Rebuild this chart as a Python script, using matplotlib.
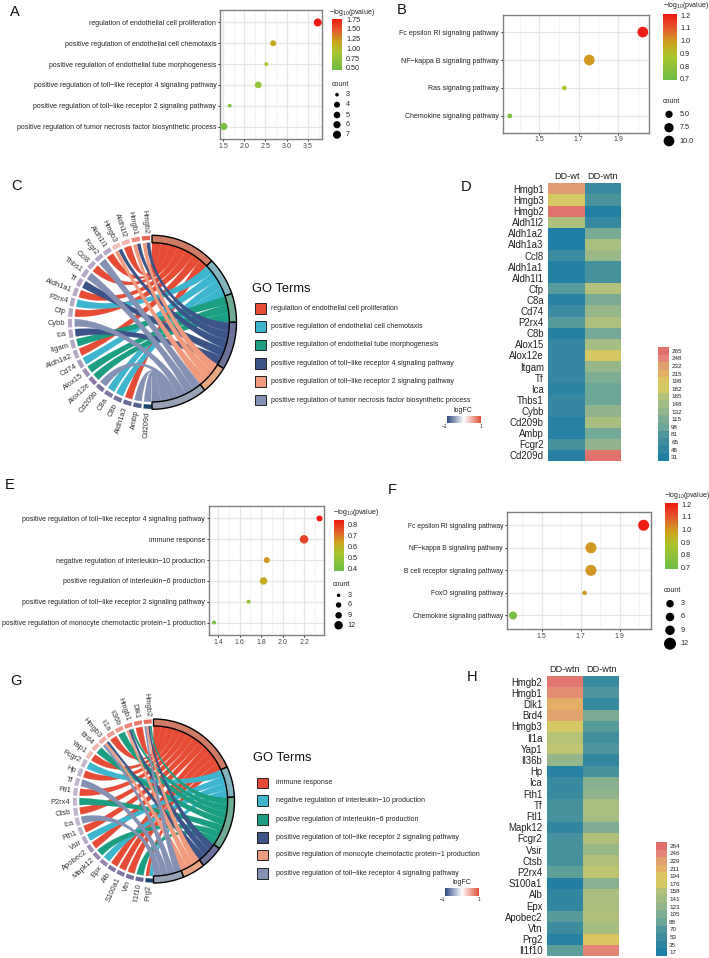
import matplotlib

matplotlib.use("Agg")

import matplotlib.pyplot as plt
import numpy as np
from matplotlib.colors import LinearSegmentedColormap, ListedColormap, BoundaryNorm
from matplotlib.patches import PathPatch, Rectangle
from matplotlib.path import Path

W, H = 709, 958

plt.rcParams["font.family"] = ["Liberation Sans", "DejaVu Sans"]
plt.rcParams["mathtext.default"] = "regular"

# dot plots
terms_a = ["regulation of endothelial cell proliferation",
           "positive regulation of endothelial cell chemotaxis",
           "positive regulation of endothelial tube morphogenesis",
           "positive regulation of toll\u2212like receptor 4 signaling pathway",
           "positive regulation of toll\u2212like receptor 2 signaling pathway",
           "positive regulation of tumor necrosis factor biosynthetic process"]
enrich_a = [3.73, 2.68, 2.52, 2.33, 1.66, 1.52]
pval_a = [1.75, 1.12, 0.95, 0.75, 0.6, 0.55]
count_a = [7, 4, 3, 5, 3, 6]

terms_b = ["Fc epsilon RI signaling pathway", "NF\u2212kappa B signaling pathway",
           "Ras signaling pathway", "Chemokine signaling pathway"]
enrich_b = [2.026, 1.754, 1.627, 1.35]
pval_b = [1.2, 1.0, 0.88, 0.72]
count_b = [10, 10, 3, 3]

terms_e = ["positive regulation of toll\u2212like receptor 4 signaling pathway",
           "immune response",
           "negative regulation of interleukin\u221210 production",
           "positive regulation of interleukin\u22126 production",
           "positive regulation of toll\u2212like receptor 2 signaling pathway",
           "positive regulation of monocyte chemotactic protein\u22121 production"]
enrich_e = [2.34, 2.197, 1.852, 1.822, 1.683, 1.363]
pval_e = [0.85, 0.78, 0.66, 0.62, 0.5, 0.42]
count_e = [6, 12, 6, 9, 3, 3]

terms_f = ["Fc epsilon RI signaling pathway", "NF\u2212kappa B signaling pathway",
           "B cell receptor signaling pathway", "FoxO signaling pathway",
           "Chemokine signaling pathway"]
enrich_f = [2.024, 1.753, 1.753, 1.72, 1.352]
pval_f = [1.2, 1.0, 1.0, 1.0, 0.72]
count_f = [12, 12, 12, 3, 6]

# chord diagrams: which terms each gene links to (1-based index into the legend)
go_terms_c = ["regulation of endothelial cell proliferation",
              "positive regulation of endothelial cell chemotaxis",
              "positive regulation of endothelial tube morphogenesis",
              "positive regulation of toll\u2212like receptor 4 signaling pathway",
              "positive regulation of toll\u2212like receptor 2 signaling pathway",
              "positive regulation of tumor necrosis factor biosynthetic process"]
genes_c = ["Hmgb2", "Hmgb1", "Aldh1l2", "Hmgb3", "Aldh1l1", "Fcgr2", "Ccl8", "Thbs1", "Tf",
           "Aldh1a1", "P2rx4", "Cfp", "Cybb", "Ica", "Itgam", "Aldh1a2", "Cd74", "Alox15",
           "Alox12e", "Cd209b", "C8a", "C8b", "Aldh1a3", "Ambp", "Cd209d"]
links_c = [[4, 5], [4, 5], [1], [4, 5], [1], [6], [1], [6], [4], [1], [2], [1], [6], [4], [3],
           [1], [2], [3], [3], [6], [2], [2], [1], [6], [6]]
logfc_c = [0.85, 0.6, 0.35, 0.3, -0.3, -0.3, -0.3, -0.3, -0.3, -0.3, -0.3, -0.3, -0.3, -0.3,
           -0.3, -0.3, -0.35, -0.4, -0.5, -0.55, -0.55, -0.6, -0.65, -0.75, -1.0]

go_terms_g = ["immune response",
              "negative regulation of interleukin\u221210 production",
              "positive regulation of interleukin\u22126 production",
              "positive regulation of toll\u2212like receptor 2 signaling pathway",
              "positive regulation of monocyte chemotactic protein\u22121 production",
              "positive regulation of toll\u2212like receptor 4 signaling pathway"]
genes_g = ["Hmgb2", "Dlk1", "Hmgb1", "Il36b", "Il1a", "Hmgb3", "Brd4", "Yap1", "Fcgr2", "Hp",
           "Tf", "Ftl1", "P2rx4", "Ctsb", "Ica", "Fth1", "Vsir", "Apobec2", "Mapk12", "Epx",
           "Alb", "S100a1", "Vtn", "Il1f10", "Prg2"]
links_g = [[3, 4, 5, 6], [1], [3, 4, 5], [3], [1], [4, 5, 6], [3], [1], [2], [1], [6], [1], [3],
           [1], [6], [1], [2], [1], [3], [2], [1], [1], [1], [3], [1, 2]]
logfc_g = [0.8, 0.7, 0.65, 0.55, 0.5, 0.4, 0.35, 0.3, -0.25, -0.25, -0.25, -0.25, -0.25, -0.25,
           -0.25, -0.25, -0.3, -0.4, -0.45, -0.45, -0.55, -0.55, -0.6, -0.65, -1.0]

chord_colors = ["#E64B35", "#3DB5CF", "#1B9E82", "#3C5488", "#F09A7E", "#8491B4"]
ring_colors = ["#CF7B63", "#80B4BE", "#6FAB93", "#6C7299", "#E5A57F", "#98A2B6"]

# heatmaps
heat_rows_d = ["Hmgb1", "Hmgb3", "Hmgb2", "Aldh1l2", "Aldh1a2", "Aldh1a3", "Ccl8", "Aldh1a1",
               "Aldh1l1", "Cfp", "C8a", "Cd74", "P2rx4", "C8b", "Alox15", "Alox12e", "Itgam",
               "Tf", "Ica", "Thbs1", "Cybb", "Cd209b", "Ambp", "Fcgr2", "Cd209d"]
heat_wt_d = [235, 185, 262, 160, 31, 31, 60, 35, 35, 85, 40, 60, 85, 38, 55, 55, 55, 55, 42, 55,
             55, 40, 40, 70, 40]
heat_wtn_d = [60, 75, 35, 55, 110, 155, 140, 70, 70, 165, 110, 135, 160, 105, 150, 185, 135, 115,
              100, 100, 130, 155, 105, 130, 262]
scale_d = [265, 248, 232, 215, 198, 182, 165, 148, 132, 115, 98, 81, 65, 48, 31]

heat_rows_h = ["Hmgb2", "Hmgb1", "Dlk1", "Brd4", "Hmgb3", "Il1a", "Yap1", "Il36b", "Hp", "Ica",
               "Fth1", "Tf", "Ftl1", "Mapk12", "Fcgr2", "Vsir", "Ctsb", "P2rx4", "S100a1", "Alb",
               "Epx", "Apobec2", "Vtn", "Prg2", "Il1f10"]
heat_wt_h = [258, 240, 212, 225, 180, 160, 165, 125, 25, 45, 45, 60, 60, 40, 60, 60, 60, 80, 20,
             40, 40, 75, 50, 25, 80]
heat_wtn_h = [45, 70, 42, 100, 75, 55, 70, 40, 60, 115, 120, 145, 145, 105, 155, 130, 155, 165,
              115, 150, 150, 155, 145, 190, 245]
scale_h = [264, 246, 229, 211, 194, 176, 158, 141, 123, 105, 88, 70, 53, 35, 17]

heat_bands = ["#1F7EA3", "#2E85A0", "#3F8D9E", "#4F969C", "#6BA698", "#7FAD93", "#93B58B",
              "#A2BD84", "#B2C17A", "#D2C963", "#DEC460", "#E3B066", "#E0A070", "#E58478",
              "#E0706A"]
heat_cmap = LinearSegmentedColormap.from_list("heat", heat_bands)
pval_cmap = LinearSegmentedColormap.from_list(
    "pval", [(0, "#6DBE45"), (0.35, "#A9C52F"), (0.55, "#CDA61F"), (0.8, "#E6552C"), (1, "#EE1A12")])
lfc_cmap = LinearSegmentedColormap.from_list(
    "lfc", [(0, "#17476E"), (0.25, "#8B7AA8"), (0.5, "#F5EEF0"), (1, "#E64B35")])
lfc_bar_cmap = LinearSegmentedColormap.from_list("lfc_bar", ["#2F4B85", "#FFFFFF", "#E0503A"])

fig = plt.figure(figsize=(W / 100, H / 100), dpi=100)


def px_axes(x0, y0, x1, y1):
    return fig.add_axes([x0 / W, 1 - y1 / H, (x1 - x0) / W, (y1 - y0) / H])


ov = fig.add_axes([0, 0, 1, 1], zorder=5)
ov.set_xlim(0, W)
ov.set_ylim(H, 0)
ov.axis("off")


def dot_panel(box, terms, xs, ps, counts, xlim, ticks, minor, vlim, size_counts, size_diams, label_size=5.05):
    ax = px_axes(*box)
    ys = np.arange(len(terms))
    diam = np.interp(counts, size_counts, size_diams)
    ax.grid(True, which="major", color="#E6E6E6", lw=0.9)
    ax.grid(True, which="minor", axis="x", color="#EFEFEF", lw=0.5)
    ax.set_axisbelow(True)
    ax.scatter(xs, ys, s=(diam * 0.72) ** 2, c=ps, cmap=pval_cmap,
               vmin=vlim[0], vmax=vlim[1], linewidths=0, zorder=3)
    ax.set_xlim(*xlim)
    ax.set_ylim(len(terms) - 1 + 0.6, -0.6)
    ax.set_yticks(ys)
    ax.set_yticklabels(terms, fontsize=label_size, color="#222222")
    ax.set_xticks(ticks)
    ax.set_xticks(minor, minor=True)
    ax.set_xticklabels(["%.1f" % t for t in ticks])
    ax.tick_params(axis="both", which="major", length=1.5, width=0.7, pad=1.2, color="#222222")
    ax.tick_params(axis="x", which="major", labelsize=5, labelcolor="#444444")
    ax.tick_params(axis="x", which="minor", length=0)
    for s in ax.spines.values():
        s.set_color("#7F7F7F")
        s.set_linewidth(1.0)
    return ax


def color_key(box, vlim, ticks, fmt, title_xy, count_xy, dots_x, dot_ys, dot_labels, dot_diam):
    ax = px_axes(*box)
    grad = np.linspace(1, 0, 256).reshape(-1, 1)
    ax.imshow(grad, aspect="auto", cmap=pval_cmap, vmin=0, vmax=1,
              extent=[0, 1, vlim[0], vlim[1]])
    ax.set_xticks([])
    ax.yaxis.tick_right()
    ax.set_yticks(ticks)
    ax.set_yticklabels([fmt % t for t in ticks], fontsize=5.2, color="#222222")
    ax.tick_params(axis="y", length=0, pad=3)
    for s in ax.spines.values():
        s.set_visible(False)
    ov.text(title_xy[0], title_xy[1], "\u2212log$_{10}$(pvalue)", fontsize=5, va="center", color="#222222")
    ov.text(count_xy[0], count_xy[1], "count", fontsize=5, va="center", color="#222222")
    ov.scatter([dots_x] * len(dot_ys), dot_ys, s=[(d * 0.72) ** 2 for d in dot_diam],
               color="black", linewidths=0)
    for y, lab in zip(dot_ys, dot_labels):
        ov.text(box[2] + 3.5, y, lab, fontsize=5.2, va="center", color="#222222")


def arc_points(t0, t1, r, n=24):
    t = np.radians(np.linspace(t0, t1, n))
    return list(zip(r * np.cos(t), r * np.sin(t)))


def ring_patch(t0, t1, r0, r1, to_px, **kw):
    pts = arc_points(t0, t1, r1) + arc_points(t1, t0, r0)
    return PathPatch(Path(to_px(pts + pts[:1]), closed=True), **kw)


def ctrl_point(edge, mid, k=0.45, f=0.42):
    # ribbon narrows through the middle but does not pinch to a point
    a = np.radians(mid + (edge - mid) * f / k)
    return (k * np.cos(a), k * np.sin(a))


def chord_panel(cx, cy, rx, ry, genes, links, logfc):
    def to_px(pts):
        a = np.array(pts, dtype=float)
        return np.column_stack([cx + rx * a[:, 0], cy - ry * a[:, 1]])

    n_genes = len(genes)
    slot = 180.0 / n_genes
    totals = [sum(t in gl for gl in links) for t in range(1, 7)]
    per_link = 180.0 / sum(totals)

    # term side: every term gets an arc sized by its number of links
    starts = {}
    pos = 90.0
    for t in range(6):
        span = totals[t] * per_link
        ov.add_patch(ring_patch(pos, pos - span, 0.915, 1.0, to_px,
                                facecolor=ring_colors[t], edgecolor="black", lw=1.0, zorder=4))
        starts[t + 1] = pos
        pos -= span

    used = dict.fromkeys(starts, 0)
    gene_spans = []
    for i, gl in enumerate(links):
        a0 = 90 + 1.3 + i * slot
        a1 = a0 + slot * 0.8
        w = (a1 - a0) / len(gl)
        for j, t in enumerate(gl):
            gene_spans.append((t, a0 + j * w, a0 + (j + 0.94) * w))
        ov.add_patch(ring_patch(a0, a1, 0.945, 0.995, to_px,
                                facecolor=lfc_cmap((logfc[i] + 1) / 2), edgecolor="none"))
        mid = np.radians((a0 + a1) / 2)
        lx, ly = to_px([(1.025 * np.cos(mid), 1.025 * np.sin(mid))])[0]
        ov.text(lx, ly, genes[i], fontsize=5.4, color="#333333", rotation=np.degrees(mid) - 180,
                rotation_mode="anchor", ha="right", va="center")

    # chords: gene order maps to the term arc clockwise from its top
    tagged = []
    for t, g0, g1 in gene_spans:
        b0 = starts[t] - used[t] * per_link
        b1 = b0 - per_link
        used[t] += 1
        tagged.append((t, g0, g1, b0, b1))
    r = 0.915
    for t, g0, g1, b0, b1 in sorted(tagged, key=lambda v: v[0]):
        head = arc_points(g0, g1, r)
        tail = arc_points(b1, b0, r)
        gm, bm = (g0 + g1) / 2, (b0 + b1) / 2
        verts = (head + [ctrl_point(g1, gm), ctrl_point(b1, bm), tail[0]] + tail[1:]
                 + [ctrl_point(b0, bm), ctrl_point(g0, gm), head[0]])
        codes = ([Path.MOVETO] + [Path.LINETO] * (len(head) - 1) + [Path.CURVE4] * 3
                 + [Path.LINETO] * (len(tail) - 1) + [Path.CURVE4] * 3)
        ov.add_patch(PathPatch(Path(to_px(verts), codes), facecolor=chord_colors[t - 1],
                               edgecolor=chord_colors[t - 1], lw=0.15))


def term_legend(x_sq, x_txt, title_xy, ys, terms, size):
    ov.text(title_xy[0], title_xy[1], "GO Terms", fontsize=9.3, va="center", color="#111111")
    for y, term, col in zip(ys, terms, chord_colors):
        ov.add_patch(Rectangle((x_sq, y - 5.4), 10.8, 10.8, facecolor=col, edgecolor="#222222", lw=0.7))
        ov.text(x_txt, y, term, fontsize=size, va="center", color="#222222")


def lfc_key(x0, x1, y0, y1):
    ax = px_axes(x0, y0, x1, y1)
    ax.imshow(np.linspace(0, 1, 128).reshape(1, -1), aspect="auto", cmap=lfc_bar_cmap)
    ax.axis("off")
    ov.text((x0 + x1) / 2, y0 - 6, "logFC", fontsize=5, ha="center", va="center", color="#222222")
    ov.text(x0 - 2, y1 + 4, "\u22121", fontsize=3.4, ha="center", va="center", color="#222222")
    ov.text(x1 + 0.5, y1 + 4, "1", fontsize=3.4, ha="center", va="center", color="#222222")


def heat_panel(box, rows, col_a, col_b, col_names, header_y, scale_box, scale_vals):
    ax = px_axes(*box)
    vals = np.column_stack([col_a, col_b])
    ax.pcolormesh(np.arange(3), np.arange(len(rows) + 1), vals, cmap=heat_cmap,
                  vmin=min(scale_vals), vmax=max(scale_vals))
    ax.set_ylim(len(rows), 0)
    ax.set_yticks(np.arange(len(rows)) + 0.5)
    ax.set_yticklabels(rows, fontsize=6.9, color="#222222")
    ax.set_xticks([])
    ax.tick_params(axis="y", length=0, pad=3.2)
    for s in ax.spines.values():
        s.set_visible(False)
    x0, x1 = box[0], box[2]
    for k, name in enumerate(col_names):
        ov.text(x0 + (x1 - x0) * (k + 0.5) / 2, header_y, name, fontsize=6.6, ha="center",
                va="center", color="#222222")
    sax = px_axes(*scale_box)
    sv = sorted(scale_vals)
    edges = np.arange(len(sv) + 1)
    sax.pcolormesh([0, 1], edges, np.arange(len(sv)).reshape(-1, 1),
                   cmap=ListedColormap(heat_bands),
                   norm=BoundaryNorm(np.arange(len(sv) + 1) - 0.5, len(sv)))
    sax.set_ylim(0, len(sv))
    sax.set_xticks([])
    sax.yaxis.tick_right()
    sax.set_yticks(edges[:-1] + 0.5)
    sax.set_yticklabels([str(v) for v in sv], fontsize=4.5, color="#222222")
    sax.tick_params(axis="y", length=0, pad=1.6)
    for s in sax.spines.values():
        s.set_visible(False)


dot_panel((220, 10, 322, 139), terms_a, enrich_a, pval_a, count_a, (1.43, 3.83), [1.5, 2.0, 2.5, 3.0, 3.5],
          [1.75, 2.25, 2.75, 3.25, 3.75], (0.44, 1.75), [3, 4, 5, 6, 7], [3.8, 6, 6.7, 7.2, 8])
color_key((332, 19.3, 342, 70), (0.44, 1.75), [0.5, 0.75, 1.0, 1.25, 1.5, 1.75], "%.2f", (329, 12.5), (332, 84),
          337, [94.7, 104.7, 115, 124.7, 134.7], ["3", "4", "5", "6", "7"], [3.6, 6, 6.6, 7.2, 8])

dot_panel((502.7, 15.3, 649.3, 132.7), terms_b, enrich_b, pval_b, count_b, (1.314, 2.059), [1.5, 1.7, 1.9],
          [1.4, 1.6, 1.8, 2.0], (0.69, 1.21), [3, 10], [4.7, 10.7])
color_key((662.7, 14, 676, 80), (0.69, 1.21), [0.7, 0.8, 0.9, 1.0, 1.1, 1.2], "%.1f", (662.7, 5), (663, 101),
          669, [114.3, 127.7, 141], ["5.0", "7.5", "10.0"], [7.3, 9.3, 10.7])

dot_panel((209, 506, 323.6, 635), terms_e, enrich_e, pval_e, count_e, (1.317, 2.378), [1.4, 1.6, 1.8, 2.0, 2.2],
          [1.5, 1.7, 1.9, 2.1, 2.3], (0.378, 0.846), [3, 6, 9, 12], [4, 6, 7.5, 8.5])
color_key((334, 520, 344, 570.7), (0.378, 0.846), [0.4, 0.5, 0.6, 0.7, 0.8], "%.1f", (333, 513), (333, 585),
          338.6, [595.3, 605, 615.3, 625.3], ["3", "6", "9", "12"], [3.5, 5.5, 6.5, 8.5])

dot_panel((506.8, 511.7, 651, 629), terms_f, enrich_f, pval_f, count_f, (1.32, 2.062), [1.5, 1.7, 1.9],
          [1.4, 1.6, 1.8, 2.0], (0.687, 1.208), [3, 6, 12], [4.5, 8, 11], label_size=4.9)
color_key((664.5, 503.3, 677, 569.3), (0.687, 1.208), [0.7, 0.8, 0.9, 1.0, 1.1, 1.2], "%.1f", (664, 495), (664, 590),
          670, [603.7, 617, 630.3, 643.7], ["3", "6", "9", "12"], [7.5, 8.5, 9.5, 12])

chord_panel(152, 322.3, 84.5, 87, genes_c, links_c, logfc_c)
term_legend(255, 271, (252.5, 289), [308.3, 326.7, 345, 363.3, 381.7, 400], go_terms_c, 5.08)
lfc_key(446.7, 480, 416, 422.7)

chord_panel(153.5, 801, 81, 82, genes_g, links_g, logfc_g)
term_legend(257.3, 275.5, (253.3, 758.3), [783, 800.5, 819.5, 837.3, 855, 873.8], go_terms_g, 5.02)
lfc_key(445, 478.7, 888, 895.7)

heat_panel((548.3, 183.3, 621.3, 461), heat_rows_d, heat_wt_d, heat_wtn_d, ["DD-wt", "DD-wtn"], 176,
           (658, 347, 669, 461), scale_d)
heat_panel((546.7, 676, 619.3, 956), heat_rows_h, heat_wt_h, heat_wtn_h, ["DD-wtn", "DD-wtn"], 669,
           (656, 842, 667, 956), scale_h)

for letter, x, y in [("A", 15, 12), ("B", 402, 10), ("C", 16, 186), ("D", 466, 187),
                     ("E", 10, 485), ("F", 392, 490), ("G", 16, 681), ("H", 472, 677)]:
    ov.text(x, y, letter, fontsize=10.5, ha="center", va="center", color="#111111")

fig.savefig("out.png", dpi=100)
plt.close(fig)
